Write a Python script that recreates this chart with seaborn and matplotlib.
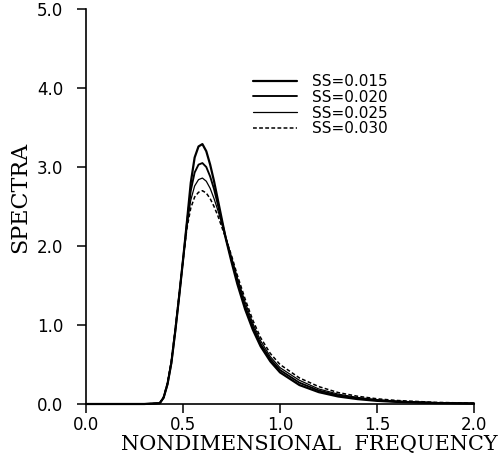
import matplotlib
matplotlib.use("Agg")
import matplotlib.pyplot as plt
import seaborn as sns
import pandas as pd

# ---- data ----
freq = [0.00, 0.30, 0.38, 0.40, 0.42, 0.44, 0.46, 0.48, 0.50, 0.52,
        0.54, 0.56, 0.58, 0.60, 0.62, 0.64, 0.66, 0.68, 0.70, 0.72,
        0.75, 0.78, 0.82, 0.86, 0.90, 0.95, 1.00, 1.10, 1.20, 1.30,
        1.40, 1.50, 1.60, 1.80, 2.00]
ss015 = [0, 0, 0.01, 0.08, 0.25, 0.52, 0.92, 1.36, 1.82, 2.30,
         2.80, 3.12, 3.26, 3.29, 3.20, 3.03, 2.82, 2.58, 2.34, 2.10,
         1.80, 1.52, 1.20, 0.94, 0.73, 0.54, 0.40, 0.24, 0.15, 0.095,
         0.062, 0.040, 0.027, 0.012, 0.006]
ss020 = [0, 0, 0.01, 0.08, 0.25, 0.52, 0.92, 1.36, 1.82, 2.28,
         2.70, 2.93, 3.03, 3.05, 3.00, 2.88, 2.72, 2.52, 2.31, 2.11,
         1.83, 1.56, 1.24, 0.98, 0.76, 0.57, 0.43, 0.27, 0.17, 0.11,
         0.072, 0.047, 0.031, 0.014, 0.007]
ss025 = [0, 0, 0.01, 0.08, 0.26, 0.53, 0.93, 1.37, 1.82, 2.25,
         2.58, 2.76, 2.84, 2.86, 2.82, 2.73, 2.60, 2.45, 2.28, 2.11,
         1.86, 1.60, 1.29, 1.02, 0.80, 0.60, 0.46, 0.30, 0.19, 0.125,
         0.083, 0.055, 0.037, 0.017, 0.008]
ss030 = [0, 0, 0.01, 0.09, 0.27, 0.55, 0.95, 1.38, 1.82, 2.22,
         2.48, 2.62, 2.68, 2.70, 2.67, 2.60, 2.50, 2.38, 2.24, 2.10,
         1.88, 1.63, 1.33, 1.06, 0.84, 0.64, 0.50, 0.33, 0.22, 0.145,
         0.098, 0.066, 0.045, 0.021, 0.010]
labels = ["SS=0.015", "SS=0.020", "SS=0.025", "SS=0.030"]
xticks = [0.0, 0.5, 1.0, 1.5, 2.0]
yticks = [0.0, 1.0, 2.0, 3.0, 4.0, 5.0]

sns.set_theme(style="white")
plt.rcParams["font.family"] = ["DejaVu Sans"]

fig = plt.figure(figsize=(4.99, 4.61), dpi=100)
ax = fig.add_axes([86 / 499, 57 / 461, 388 / 499, 395 / 461])

series = [ss015, ss020, ss025, ss030]
styles = [dict(lw=1.6, ls="-"), dict(lw=1.35, ls="-"),
          dict(lw=0.9, ls="-"), dict(lw=1.1, ls=(0, (2.5, 1.5)))]
for vals, lab, st in zip(series, labels, styles):
    df = pd.DataFrame({"f": freq, "s": vals})
    sns.lineplot(data=df, x="f", y="s", ax=ax, color="black",
                 linewidth=st["lw"], linestyle=st["ls"], label=lab,
                 clip_on=False)

ax.set_xlim(0, 2.0)
ax.set_ylim(0, 5.0)
ax.set_xticks(xticks)
ax.set_yticks(yticks)
ax.set_xticklabels([f"{t:.1f}" for t in xticks])
ax.set_yticklabels([f"{t:.1f}" for t in yticks])
for s in ["top", "right"]:
    ax.spines[s].set_visible(False)
for s in ["left", "bottom"]:
    ax.spines[s].set_color("black")
    ax.spines[s].set_linewidth(1.2)
ax.tick_params(axis="both", direction="out", length=6.5, width=1.1,
               color="black", labelsize=12, labelcolor="black",
               bottom=True, left=True)
ax.tick_params(axis="x", pad=2)
ax.tick_params(axis="y", pad=10)

ax.set_xlabel("NONDIMENSIONAL  FREQUENCY", family="DejaVu Serif",
              fontsize=15, color="black", ha="right")
ax.xaxis.set_label_coords((498 - 86) / 388, -0.078)
ax.set_ylabel("SPECTRA", family="DejaVu Serif", fontsize=16,
              color="black", va="center")
ax.yaxis.set_label_coords(-0.17, 0.524)

leg = ax.legend(loc="upper left", bbox_to_anchor=(253 / 499, 1 - 74 / 461),
                bbox_transform=fig.transFigure, frameon=False, fontsize=11,
                handlelength=2.9, handletextpad=0.95, labelspacing=0.05,
                borderpad=0, borderaxespad=0)
for t in leg.get_texts():
    t.set_color("black")

fig.savefig("out.png", dpi=100)
